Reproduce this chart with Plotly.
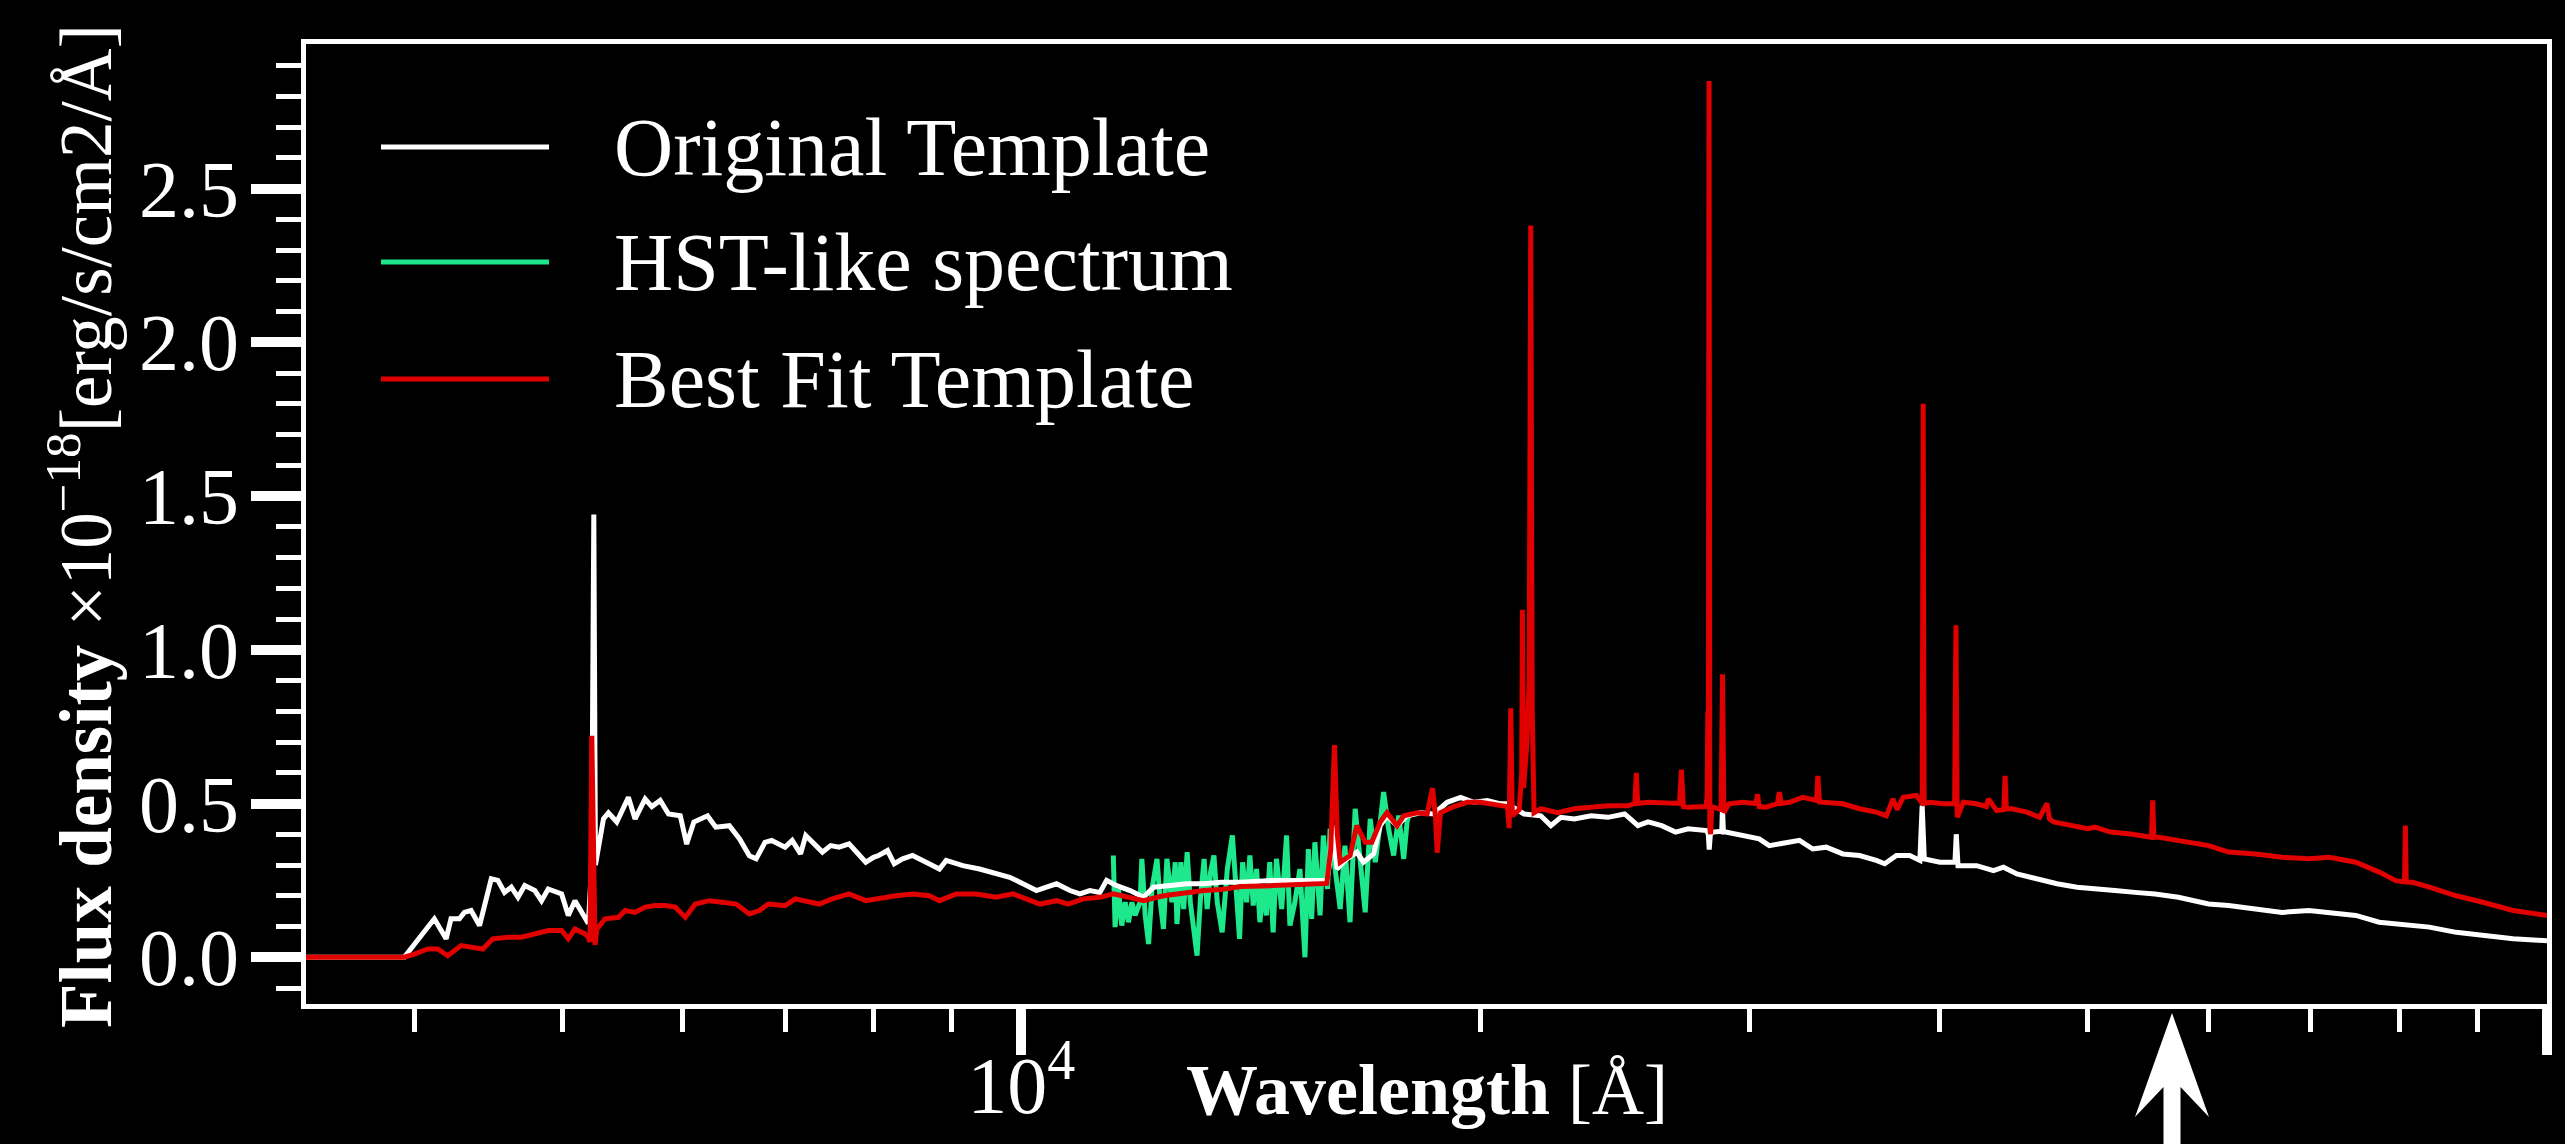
import math
import plotly.graph_objects as go

# ---------------- data ----------------
series_names = ["Original Template", "HST-like spectrum", "Best Fit Template"]
series_colors = ["#ffffff", "#1ee88c", "#e00000"]

# Original Template (white)
orig_wave = [3397, 3940, 4123, 4197, 4228, 4282, 4314, 4358, 4414, 4493,
             4538, 4584, 4631, 4678, 4726, 4798, 4847, 4896, 4996, 5047,
             5098, 5176, 5202, 5228, 5245, 5258, 5282, 5322, 5362, 5430,
             5526, 5582, 5667, 5725, 5798, 5871, 5976, 6034, 6100, 6227,
             6305, 6435, 6536, 6633, 6701, 6791, 6860, 7000, 7076, 7166,
             7222, 7406, 7499, 7594, 7710, 7907, 8000, 8062, 8171, 8254,
             8359, 8485, 8660, 8837, 8927, 9155, 9388, 9628, 9825, 10025,
             10230, 10386, 10545, 10760, 10923, 11089, 11258, 11373, 11547, 11783,
             12025, 12207, 12518, 12843, 13176, 13518, 13920, 14622, 15382, 15856,
             15920, 15980, 16104, 16342, 16590, 16758, 17016, 17188, 17362, 17630,
             17898, 18262, 18634, 19016, 19404, 19800, 20202, 20614, 20824, 21356,
             21902, 22236, 22576, 23038, 23630, 24234, 24856, 25360, 25748, 26284,
             26838, 27358, 28126, 28200, 28240, 28290, 28400, 28780, 28812, 28850,
             28950, 29692, 30452, 30920, 31712, 32360, 33016, 33692, 34552, 35432,
             36340, 36804, 37460, 38220, 38808, 38944, 39070, 40000, 40920, 41000,
             41110, 42284, 43368, 44028, 44928, 46312, 47732, 49200, 50720, 52086,
             53694, 55344, 57330, 60000, 61842, 64398, 67050, 69816, 71964, 74940,
             77622, 80424, 83736, 87198, 90780, 95010, 100000]
orig_flux = [0.0, 0.0, 0.125, 0.06, 0.125, 0.125, 0.146, 0.152, 0.103, 0.255,
             0.25, 0.211, 0.228, 0.195, 0.233, 0.217, 0.184, 0.222, 0.206, 0.136,
             0.184, 0.125, 0.11, 0.30, 1.44, 0.30, 0.36, 0.45, 0.47, 0.44,
             0.52, 0.45, 0.515, 0.49, 0.51, 0.466, 0.46, 0.368, 0.44, 0.46,
             0.423, 0.428, 0.385, 0.33, 0.32, 0.374, 0.38, 0.358, 0.38, 0.336,
             0.396, 0.342, 0.363, 0.358, 0.369, 0.309, 0.325, 0.331, 0.347, 0.304,
             0.32, 0.331, 0.309, 0.287, 0.315, 0.298, 0.287, 0.271, 0.26, 0.239,
             0.217, 0.228, 0.239, 0.217, 0.206, 0.217, 0.211, 0.25, 0.233, 0.217,
             0.195, 0.228, 0.233, 0.239, 0.239, 0.244, 0.244, 0.25, 0.25, 0.25,
             0.30, 0.43, 0.287, 0.32, 0.342, 0.309, 0.336, 0.428, 0.46, 0.428,
             0.46, 0.47, 0.466, 0.504, 0.52, 0.504, 0.51, 0.499, 0.499, 0.466,
             0.46, 0.428, 0.455, 0.45, 0.46, 0.455, 0.466, 0.428, 0.44, 0.428,
             0.407, 0.418, 0.412, 0.40, 0.35, 0.40, 0.407, 0.41, 0.488, 0.407,
             0.407, 0.396, 0.385, 0.363, 0.374, 0.38, 0.352, 0.358, 0.336, 0.331,
             0.315, 0.304, 0.331, 0.331, 0.315, 0.493, 0.32, 0.309, 0.309, 0.40,
             0.298, 0.298, 0.282, 0.293, 0.271, 0.255, 0.239, 0.228, 0.22, 0.217,
             0.211, 0.206, 0.195, 0.173, 0.168, 0.157, 0.146, 0.152, 0.146, 0.136,
             0.114, 0.108, 0.098, 0.081, 0.07, 0.06, 0.054]

# HST-like spectrum (green)
hst_wave = [11489, 11519, 11578, 11636, 11695, 11754, 11815, 11872, 11963, 11994,
            12055, 12117, 12179, 12271, 12333, 12392, 12456, 12551, 12614, 12646,
            12722, 12776, 12843, 12904, 12970, 13036, 13103, 13176, 13236, 13305,
            13372, 13440, 13540, 13646, 13750, 13819, 13885,
            13900, 13964, 14048, 14118, 14190, 14262, 14334, 14406, 14474, 14548,
            14622, 14696, 14812, 14922, 14998, 15110, 15226, 15342, 15420, 15498,
            15574, 15696, 15774, 15872, 15936, 16056, 16180, 16296, 16422, 16550,
            16674, 16802, 16930, 17060, 17188, 17276, 17406, 17540, 17674, 17808,
            17898, 17944]
hst_flux = [0.331, 0.098, 0.222, 0.103, 0.179, 0.114, 0.179, 0.136, 0.179, 0.32,
            0.136, 0.043, 0.222, 0.32, 0.179, 0.092, 0.32, 0.179, 0.309, 0.108,
            0.309, 0.157, 0.342, 0.179, 0.092, 0.005, 0.19, 0.32, 0.157, 0.277,
            0.331, 0.179, 0.081, 0.287, 0.396, 0.233, 0.136,
            0.06, 0.309, 0.179, 0.331, 0.168, 0.287, 0.114, 0.233, 0.136, 0.309,
            0.081, 0.32, 0.157, 0.396, 0.103, 0.179, 0.287, 0.0, 0.352, 0.125,
            0.374, 0.136, 0.396, 0.222, 0.418, 0.287, 0.157, 0.363, 0.114, 0.483,
            0.32, 0.146, 0.45, 0.309, 0.44, 0.537, 0.418, 0.331, 0.461, 0.32,
            0.44, 0.461]

# Best Fit Template (red)
fit_wave = [3397, 3940, 4000, 4082, 4144, 4207, 4293, 4380, 4436, 4504,
            4608, 4702, 4798, 4896, 4996, 5047, 5098, 5176, 5202, 5215,
            5229, 5245, 5255, 5268, 5335, 5444, 5499, 5582, 5667, 5754,
            5842, 5931, 6022, 6113, 6243, 6370, 6502, 6633, 6734, 6825,
            7000, 7111, 7222, 7369, 7516, 7710, 7907, 8111, 8275, 8485,
            8703, 8837, 9062, 9342, 9628, 9875, 10076, 10282, 10545, 10733,
            10979, 11258, 11489, 11783, 12025, 12392, 12843, 13176, 13518, 13920,
            14622, 15382, 15856, 15950, 16040, 16110, 16180, 16422, 16590, 16802,
            16970, 17188, 17362, 17630, 17808, 18170, 18448, 18600, 18680, 18730,
            18824, 19208, 19600, 20000, 20408, 20824, 20880, 20930, 20980, 21200,
            21280, 21302, 21340, 21450, 21520, 21572, 21620, 21680, 21902, 22462,
            23038, 23630, 24234, 24980, 25240, 25296, 25350, 25748, 26418, 27000,
            27080, 27160, 27358, 28000, 28100, 28150, 28180, 28205, 28232, 28265,
            28300, 28350, 28750, 28812, 28870, 29096, 29692, 30300, 30376, 30450,
            30764, 31300, 31392, 31480, 31872, 32524, 33200, 33272, 33350, 33516,
            34552, 35432, 36340, 36896, 37268, 37500, 37840, 38612, 38950, 39004,
            39060, 39400, 40200, 40900, 40980, 41060, 41440, 42284, 42900, 43040,
            43580, 44050, 44136, 44220, 44592, 45612, 46500, 47016, 47200, 47488,
            48712, 50000, 50540, 51748, 53340, 54428, 55050, 55150, 55250, 55680,
            57330, 60000, 61842, 64398, 67050, 69816, 71964, 74940, 77622, 79608,
            80650, 80754, 80860, 81642, 83736, 87198, 90780, 95010, 100000]
fit_flux = [0.0, 0.0, 0.01, 0.027, 0.027, 0.005, 0.038, 0.033, 0.027, 0.06,
            0.065, 0.065, 0.076, 0.087, 0.087, 0.06, 0.092, 0.076, 0.065, 0.05,
            0.72, 0.30, 0.04, 0.09, 0.125, 0.13, 0.152, 0.146, 0.163, 0.168,
            0.168, 0.163, 0.13, 0.173, 0.184, 0.179, 0.173, 0.141, 0.152, 0.173,
            0.168, 0.19, 0.184, 0.173, 0.19, 0.206, 0.184, 0.195, 0.2, 0.206,
            0.2, 0.184, 0.206, 0.206, 0.195, 0.206, 0.19, 0.173, 0.184, 0.173,
            0.19, 0.195, 0.206, 0.195, 0.184, 0.2, 0.211, 0.217, 0.22, 0.23,
            0.233, 0.239, 0.24, 0.35, 0.69, 0.40, 0.309, 0.331, 0.428, 0.374,
            0.374, 0.44, 0.47, 0.428, 0.46, 0.47, 0.466, 0.55, 0.46, 0.34,
            0.47, 0.49, 0.504, 0.504, 0.499, 0.49, 0.42, 0.81, 0.46, 0.48,
            0.6, 1.13, 0.55, 0.7, 0.9, 2.38, 0.8, 0.47, 0.483, 0.47,
            0.483, 0.488, 0.493, 0.493, 0.50, 0.60, 0.50, 0.504, 0.50, 0.50,
            0.61, 0.49, 0.488, 0.493, 0.49, 0.52, 0.80, 0.52, 2.85, 0.42,
            0.40, 0.49, 0.48, 0.92, 0.47, 0.499, 0.504, 0.50, 0.53, 0.49,
            0.488, 0.50, 0.537, 0.50, 0.504, 0.52, 0.51, 0.59, 0.505, 0.504,
            0.499, 0.483, 0.472, 0.46, 0.515, 0.48, 0.52, 0.526, 0.50, 1.80,
            0.50, 0.504, 0.499, 0.50, 1.08, 0.455, 0.504, 0.499, 0.49, 0.515,
            0.477, 0.48, 0.59, 0.483, 0.483, 0.472, 0.455, 0.50, 0.45, 0.44,
            0.428, 0.418, 0.423, 0.407, 0.401, 0.396, 0.39, 0.51, 0.39, 0.39,
            0.38, 0.363, 0.342, 0.336, 0.325, 0.32, 0.325, 0.309, 0.277, 0.249,
            0.245, 0.428, 0.245, 0.244, 0.228, 0.2, 0.179, 0.152, 0.136]

x_tick_vals = [1e4, 1e5]
x_tick_text = ["10<sup>4</sup>", "10<sup>5</sup>"]
x_minor_vals = [4000, 5000, 6000, 7000, 8000, 9000,
                20000, 30000, 40000, 50000, 60000, 70000, 80000, 90000]
y_tick_vals = [0.0, 0.5, 1.0, 1.5, 2.0, 2.5]
y_tick_text = ["0.0", "0.5", "1.0", "1.5", "2.0", "2.5"]

x_title = "<b>Wavelength</b> [Å]"
y_title = "<b>Flux density</b> ×10<sup>−18</sup>[erg/s/cm2/Å]"

# ---------------- figure ----------------
FONT = "Liberation Serif, Times New Roman, serif"
W, H = 2565, 1144
ML, MR, MT, MB = 306, 18, 44, 140

fig = go.Figure()
# draw order: green below white, red on top
fig.add_trace(go.Scatter(x=hst_wave, y=hst_flux, mode="lines", name=series_names[1],
                         line=dict(color=series_colors[1], width=5)))
fig.add_trace(go.Scatter(x=orig_wave, y=orig_flux, mode="lines", name=series_names[0],
                         line=dict(color=series_colors[0], width=5)))
fig.add_trace(go.Scatter(x=fit_wave, y=fit_flux, mode="lines", name=series_names[2],
                         line=dict(color=series_colors[2], width=5)))

fig.update_layout(
    width=W, height=H,
    paper_bgcolor="black", plot_bgcolor="black",
    margin=dict(l=ML, r=MR, t=MT, b=MB, pad=0, autoexpand=False),
    showlegend=False,
    font=dict(family=FONT, color="white", size=80),
    xaxis=dict(
        type="log", range=[math.log10(3397), 5.0], automargin=False,
        tickmode="array", tickvals=x_tick_vals, ticktext=x_tick_text,
        ticks="outside", ticklen=46, tickwidth=10, tickcolor="white",
        ticklabelstandoff=-38,
        tickfont=dict(family=FONT, size=80, color="white"),
        showline=True, linewidth=5, linecolor="white", mirror=True,
        showgrid=False, zeroline=False,
        minor=dict(tickmode="array", tickvals=x_minor_vals, ticks="outside",
                   ticklen=23, tickwidth=5, tickcolor="white", showgrid=False),
    ),
    yaxis=dict(
        range=[-0.152, 2.97], automargin=False,
        tickmode="array", tickvals=y_tick_vals, ticktext=y_tick_text,
        ticks="outside", ticklen=50, tickwidth=10, tickcolor="white",
        ticklabelstandoff=-4,
        tickfont=dict(family=FONT, size=80, color="white"),
        showline=True, linewidth=5, linecolor="white", mirror=True,
        showgrid=False, zeroline=False,
        minor=dict(dtick=0.1, tick0=0, ticks="outside",
                   ticklen=25, tickwidth=5, tickcolor="white", showgrid=False),
    ),
)

PW = W - ML - MR
PH = H - MT - MB


def px_x(X):
    return (X - ML) / PW


def px_y(Y):
    return (H - MB - Y) / PH


# axis titles
fig.add_annotation(text=x_title, xref="paper", yref="paper",
                   x=0.5, y=px_y(1090), xanchor="center", yanchor="middle",
                   showarrow=False, font=dict(family=FONT, size=72, color="white"))
fig.add_annotation(text=y_title, xref="paper", yref="paper",
                   x=px_x(80), y=px_y(526), xanchor="center", yanchor="middle",
                   textangle=-90, showarrow=False,
                   font=dict(family=FONT, size=73, color="white"))

# legend (drawn in the upper-left corner of the axes)
legend_order = [0, 1, 2]
legend_rows_px = [147, 262, 379]
for row, idx in zip(legend_rows_px, legend_order):
    yy = px_y(row)
    fig.add_shape(type="line", xref="paper", yref="paper",
                  x0=px_x(381), x1=px_x(549), y0=yy, y1=yy,
                  line=dict(color=series_colors[idx], width=5))
    fig.add_annotation(text=series_names[idx], xref="paper", yref="paper",
                       x=px_x(612), y=yy, xanchor="left", yanchor="middle",
                       showarrow=False,
                       font=dict(family=FONT, size=82, color="white"))

# white pointer arrow below the x axis
arrow_pts = [(2172, 1013), (2209, 1117), (2180.5, 1087), (2180.5, 1160),
             (2163.5, 1160), (2163.5, 1087), (2135, 1117)]
path = "M " + " L ".join(f"{px_x(a):.5f},{px_y(b):.5f}" for a, b in arrow_pts) + " Z"
fig.add_shape(type="path", xref="paper", yref="paper", path=path,
              fillcolor="white", line=dict(color="white", width=0), layer="above")

fig.write_html("out.html",
               config={"displayModeBar": False},
               post_script="document.body.style.margin='0';document.body.style.overflow='hidden';")
